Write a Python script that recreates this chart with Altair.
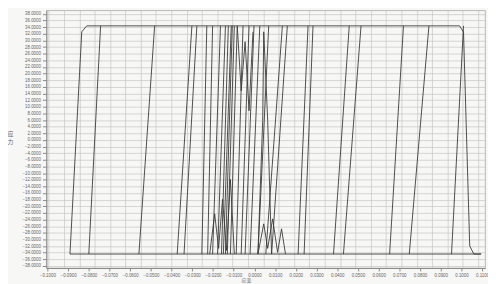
import altair as alt
import pandas as pd

# plateau levels of the curves
LOW, HIGH = -34.4, 34.4

# outer loop: bottom-left -> up -> along top -> down right -> back along bottom
outline_x = [-0.0891, -0.0834, -0.0810, 0.0991, 0.1010, 0.1040, 0.1060, 0.1095, -0.0891]
outline_y = [LOW, 32.6, HIGH, HIGH, 32.5, -32.0, LOW, LOW, LOW]

# near-vertical switching branches: strain at the bottom plateau and at the top plateau
edge_bottom = [-0.0800, -0.0558, -0.0373, -0.0340, -0.0254, -0.0226, -0.0202, -0.0178,
               -0.0159, -0.0150, -0.0140, -0.0131, -0.0116, -0.0088, -0.0064, -0.0045,
               -0.0021, 0.0017, 0.0055, 0.0083, 0.0211, 0.0240, 0.0382, 0.0430,
               0.0653, 0.0748, 0.0952]
edge_top = [-0.0743, -0.0482, -0.0302, -0.0278, -0.0230, -0.0202, -0.0164, -0.0140,
            -0.0126, -0.0112, -0.0107, -0.0097, -0.0083, -0.0055, -0.0026, -0.0002,
            0.0026, 0.0069, 0.0135, 0.0159, 0.0259, 0.0283, 0.0458, 0.0515,
            0.0720, 0.0843, 0.1010]

# minor (zig-zag) loops in the dense middle part
zig1_x = [-0.0216, -0.0192, -0.0173, -0.0154, -0.0135, -0.0116, -0.0097]
zig1_y = [LOW, -22.3, -32.7, -17.9, -33.3, -11.9, LOW]
zig2_x = [0.0017, 0.0045, 0.0064, 0.0088, 0.0112, 0.0131, 0.0150]
zig2_y = [LOW, -25.3, -32.7, -23.8, -33.9, -26.8, LOW]
zig3_x = [0.0017, 0.0040, 0.0045, 0.0064, 0.0083]
zig3_y = [LOW, 5.9, 32.6, 5.9, LOW]
zig4_x = [-0.0083, -0.0064, -0.0045, -0.0026, -0.0007]
zig4_y = [HIGH, 14.8, 29.6, 8.8, 32.6]

rows = []
def add(name, xs, ys):
    for i, (a, b) in enumerate(zip(xs, ys)):
        rows.append({"s": name, "i": i, "x": a, "y": b})

add("outline", outline_x, outline_y)
for k, (b, t) in enumerate(zip(edge_bottom, edge_top)):
    add(f"e{k}", [b, t], [LOW, HIGH])
add("z1", zig1_x, zig1_y)
add("z2", zig2_x, zig2_y)
add("z3", zig3_x, zig3_y)
add("z4", zig4_x, zig4_y)
df = pd.DataFrame(rows)

x_labels = [round(-0.10 + 0.01 * k, 2) for k in range(22)]
y_labels = list(range(-38, 40, 2))
x_grid = [-0.0994 + 0.00741 * k for k in range(29)]

xs = alt.Scale(domain=[-0.1005, 0.1114], nice=False, zero=False)
ys = alt.Scale(domain=[-38.6, 39.1], nice=False, zero=False)

grid = alt.Chart(df).mark_line(opacity=0).encode(
    x=alt.X("x:Q", scale=xs, axis=alt.Axis(orient="top", values=x_grid, grid=True,
            gridColor="#c4c4c4", gridWidth=0.7, labels=False, ticks=False,
            domain=False, title=None)),
    y=alt.Y("y:Q", scale=ys, axis=alt.Axis(orient="right", values=y_labels, grid=True,
            gridColor="#c4c4c4", gridWidth=0.7, labels=False, ticks=False,
            domain=False, title=None)),
)

lines = alt.Chart(df).mark_line(color="#3a3a3a", strokeWidth=1, opacity=0.9).encode(
    x=alt.X("x:Q", scale=xs, axis=alt.Axis(values=x_labels, format=".4f", grid=False,
            labelFontSize=4.5, labelColor="#666", tickSize=3, tickColor="#888",
            domainColor="#888", labelFlush=False, labelOverlap=False,
            title="应变", titleFont="Noto Sans CJK SC", titleFontSize=5,
            titleFontWeight="normal", titleColor="#666", titleX=203, titleY=10)),
    y=alt.Y("y:Q", scale=ys, axis=alt.Axis(values=y_labels, format=".4f", grid=False,
            labelFontSize=4.5, labelColor="#666",
            tickSize=4, tickColor="#888", domainColor="#888", labelOverlap=False,
            title=["应", "力"], titleFont="Noto Sans CJK SC", titleFontSize=6,
            titleFontWeight="normal", titleColor="#666", titleAngle=0,
            titleX=-37, titleY=128)),
    detail="s:N",
    order="i:Q",
)

chart = alt.layer(grid, lines).resolve_axis(x="independent", y="independent").properties(
    width=446, height=262,
    autosize=alt.AutoSizeParams(type="none"),
    padding={"left": 39, "top": 0, "right": 3, "bottom": 14},
    background="#f7f7f5",
).configure_view(stroke="#aaa", strokeWidth=0.8)

chart.save("out.html", embed_options={"renderer": "svg", "actions": False})
